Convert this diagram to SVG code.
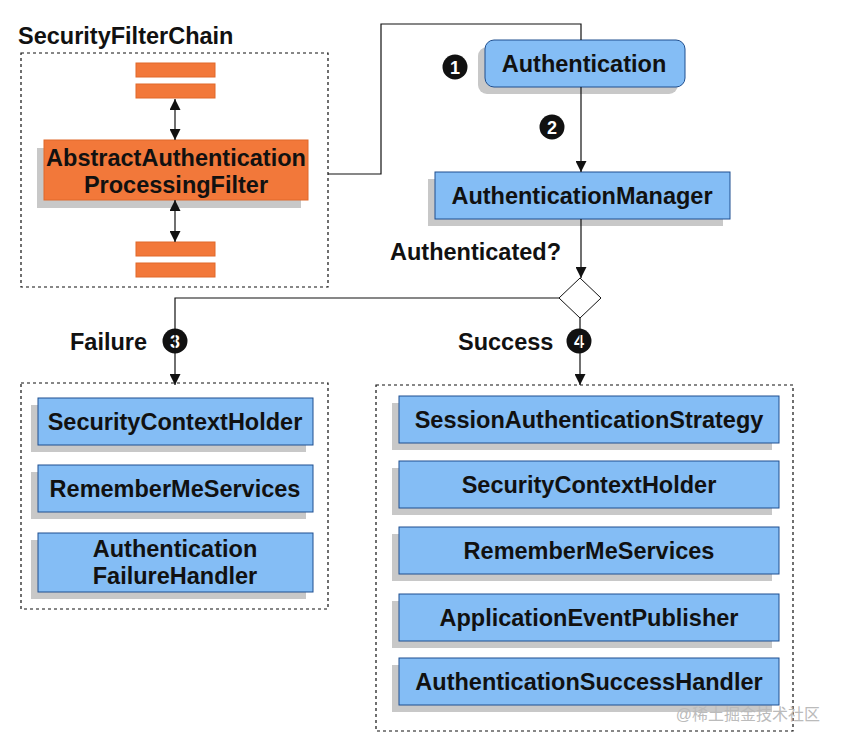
<svg xmlns="http://www.w3.org/2000/svg" width="841" height="745" viewBox="0 0 841 745">
<defs>
<style>
text{font-family:"Liberation Sans",Arial,sans-serif;font-weight:bold;fill:#111}
.t{font-size:23.5px;text-anchor:middle}
.lbl{font-size:23.5px}
.blue{fill:#84bdf5;stroke:#1f4f8f;stroke-width:1}
.org{fill:#f2783a;stroke:#e0692a;stroke-width:1}
.sh{fill:#c8c8c8}
.dash{fill:none;stroke:#111;stroke-width:1.2;stroke-dasharray:3,3}
.ln{fill:none;stroke:#111;stroke-width:1.2}
.b{fill:#111}
.bt{font-size:18px;fill:#fff;text-anchor:middle}
</style>
<marker id="ar" viewBox="0 0 10 10" refX="10" refY="5" markerWidth="11" markerHeight="11" markerUnits="userSpaceOnUse" orient="auto-start-reverse"><path d="M0,0L10,5L0,10z" fill="#111"/></marker>
</defs>
<rect width="841" height="745" fill="#fff"/>
<text x="18" y="44" class="lbl">SecurityFilterChain</text>
<rect class="dash" x="21" y="53" width="307" height="234"/>
<g id="chain">
<rect class="org" x="136" y="63" width="79" height="14"/>
<rect class="org" x="136" y="84" width="79" height="14"/>
<rect class="org" x="136" y="242" width="79" height="14"/>
<rect class="org" x="136" y="263" width="79" height="14"/>
</g>
<g id="filter">
<rect class="sh" x="37" y="148" width="264" height="60"/>
<rect class="org" x="44" y="140" width="264" height="60"/>
<text class="t" x="176" y="166">AbstractAuthentication</text>
<text class="t" x="176" y="193">ProcessingFilter</text>
</g>
<g id="authentication">
<rect class="sh" x="478" y="47" width="200" height="47" rx="9"/>
<rect class="blue" x="485" y="40" width="200" height="47" rx="9"/>
<text class="t" x="584" y="72">Authentication</text>
</g>
<g id="manager">
<rect class="sh" x="428" y="179" width="295" height="47"/>
<rect class="blue" x="435" y="172" width="295" height="47"/>
<text class="t" x="582" y="204">AuthenticationManager</text>
</g>
<g id="decision">
<path d="M580,278L601,298L580,318L559,298Z" fill="#fff" stroke="#111" stroke-width="1"/>
</g>
<text class="lbl" x="390" y="260">Authenticated?</text>
<text class="lbl" x="70" y="350">Failure</text>
<text class="lbl" x="458" y="350">Success</text>
<g id="badges">
<circle class="b" cx="455" cy="67" r="12.5"/><text class="bt" x="455" y="73.5">1</text>
<circle class="b" cx="552" cy="127" r="12.5"/><text class="bt" x="552" y="133.5">2</text>
<circle class="b" cx="175" cy="341" r="12.5"/><text class="bt" x="175" y="347.5">3</text>
<circle class="b" cx="579" cy="341" r="12.5"/><text class="bt" x="579" y="347.5">4</text>
</g>
<g id="connectors">
<path class="ln" d="M175,99V140" marker-start="url(#ar)" marker-end="url(#ar)"/>
<path class="ln" d="M175,200V242" marker-start="url(#ar)" marker-end="url(#ar)"/>
<path class="ln" d="M328,174H381V24H581V40"/>
<path class="ln" d="M581,87V172" marker-end="url(#ar)"/>
<path class="ln" d="M581,219V278" marker-end="url(#ar)"/>
<path class="ln" d="M559,298H175V385" marker-end="url(#ar)"/>
<path class="ln" d="M580,318V385" marker-end="url(#ar)"/>
</g>
<rect class="dash" x="21" y="383" width="307" height="226"/>
<g id="fail1"><rect class="sh" x="31" y="405" width="275" height="47"/><rect class="blue" x="38" y="398" width="275" height="47"/><text class="t" x="175" y="430">SecurityContextHolder</text></g>
<g id="fail2"><rect class="sh" x="31" y="472" width="275" height="47"/><rect class="blue" x="38" y="465" width="275" height="47"/><text class="t" x="175" y="497">RememberMeServices</text></g>
<g id="fail3"><rect class="sh" x="31" y="540" width="275" height="59"/><rect class="blue" x="38" y="533" width="275" height="59"/><text class="t" x="175" y="557">Authentication</text><text class="t" x="175" y="584">FailureHandler</text></g>
<rect class="dash" x="376" y="385" width="417" height="346"/>
<g id="s1"><rect class="sh" x="392" y="403" width="380" height="47"/><rect class="blue" x="399" y="396" width="380" height="47"/><text class="t" x="589" y="428">SessionAuthenticationStrategy</text></g>
<g id="s2"><rect class="sh" x="392" y="468" width="380" height="47"/><rect class="blue" x="399" y="461" width="380" height="47"/><text class="t" x="589" y="493">SecurityContextHolder</text></g>
<g id="s3"><rect class="sh" x="392" y="534" width="380" height="47"/><rect class="blue" x="399" y="527" width="380" height="47"/><text class="t" x="589" y="559">RememberMeServices</text></g>
<g id="s4"><rect class="sh" x="392" y="601" width="380" height="47"/><rect class="blue" x="399" y="594" width="380" height="47"/><text class="t" x="589" y="626">ApplicationEventPublisher</text></g>
<g id="s5"><rect class="sh" x="392" y="665" width="380" height="47"/><rect class="blue" x="399" y="658" width="380" height="47"/><text class="t" x="589" y="690">AuthenticationSuccessHandler</text></g>
<text x="820" y="720" font-size="16" text-anchor="end" style="font-weight:normal;fill:#bbb;font-family:'Liberation Sans','Noto Sans CJK SC',sans-serif">@稀土掘金技术社区</text>
</svg>
